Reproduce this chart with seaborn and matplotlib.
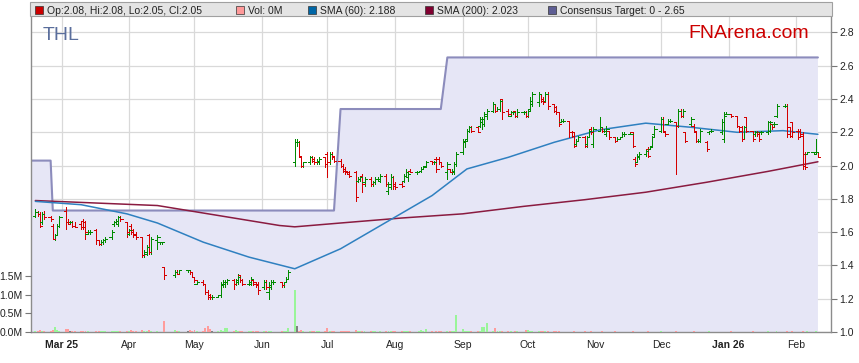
import numpy as np
import pandas as pd
import matplotlib
matplotlib.use("Agg")
import matplotlib.pyplot as plt
import matplotlib.dates as mdates
from matplotlib.patches import Rectangle
import seaborn as sns

# ASX trading days on the chart (holidays have no bar)
first_day = "2025-02-17"
last_day = "2026-02-11"
holidays = ["2025-04-18", "2025-04-21", "2025-04-25", "2025-06-09",
            "2025-12-25", "2025-12-26", "2026-01-01", "2026-01-26"]

# daily OHLC
opens = [
    1.70, 1.72, 1.71, 1.66, 1.71, 1.69, 1.64, 1.56, 1.58, 1.64,
    1.73, 1.66, 1.66, 1.66, 1.64, 1.65, 1.67, 1.66, 1.59, 1.60,
    1.61, 1.55, 1.53, 1.54, 1.55, 1.57, 1.65, 1.66, 1.65, 1.69,
    1.66, 1.59, 1.64, 1.61, 1.59, 1.57, 1.46, 1.47, 1.58, 1.48,
    1.55, 1.54, 1.54, 1.39, 1.34, 1.36, 1.35, 1.37, 1.37, 1.36,
    1.33, 1.29, 1.30, 1.29, 1.24, 1.22, 1.21, 1.21, 1.22, 1.28,
    1.29, 1.30, 1.31, 1.29, 1.30, 1.34, 1.31, 1.29, 1.29, 1.31,
    1.30, 1.29, 1.27, 1.30, 1.24, 1.27, 1.30, 1.30, 1.28, 1.30,
    1.32, 2.02, 2.14, 2.14, 2.05, 2.00, 2.02, 2.05, 2.04, 2.02,
    2.02, 2.05, 2.07, 2.02, 2.07, 2.06, 2.03, 2.00, 1.98, 1.97,
    1.96, 1.96, 1.91, 1.92, 1.94, 1.90, 1.92, 1.89, 1.90, 1.92,
    1.91, 1.94, 1.85, 1.87, 1.93, 1.89, 1.89, 1.91, 1.94, 1.93,
    1.97, 1.96, 1.96, 1.97, 1.98, 2.00, 2.03, 2.02, 2.04, 2.04,
    2.02, 1.96, 1.98, 1.96, 1.96, 2.01, 2.08, 2.14, 2.16, 2.21,
    2.23, 2.23, 2.24, 2.26, 2.25, 2.30, 2.33, 2.37, 2.33, 2.34,
    2.40, 2.33, 2.30, 2.32, 2.33, 2.30, 2.32, 2.32, 2.30, 2.34,
    2.37, 2.38, 2.43, 2.40, 2.39, 2.43, 2.37, 2.35, 2.32, 2.26,
    2.27, 2.27, 2.20, 2.20, 2.13, 2.15, 2.17, 2.13, 2.17, 2.22,
    2.13, 2.21, 2.23, 2.21, 2.19, 2.21, 2.17, 2.15, 2.16, 2.17,
    2.19, 2.19, 2.20, 2.04, 2.02, 2.05, 2.07, 2.10, 2.10, 2.12,
    2.19, 2.21, 2.28, 2.20, 2.25, 2.27, 2.26, 2.24, 2.33, 2.30,
    2.20, 2.25, 2.24, 2.20, 2.15, 2.15, 2.14, 2.20, 2.21, 2.20,
    2.16, 2.31, 2.31, 2.30, 2.24, 2.23, 2.16, 2.29, 2.21, 2.19,
    2.20, 2.20, 2.20, 2.20, 2.21, 2.25, 2.25, 2.30, 2.36, 2.36,
    2.23, 2.26, 2.21, 2.21, 2.19, 2.07, 2.07, 2.08, 2.07, 2.08,
]
highs = [
    1.74, 1.73, 1.72, 1.72, 1.73, 1.70, 1.65, 1.59, 1.65, 1.70,
    1.75, 1.68, 1.67, 1.67, 1.66, 1.66, 1.68, 1.67, 1.61, 1.61,
    1.62, 1.55, 1.55, 1.56, 1.57, 1.61, 1.67, 1.68, 1.70, 1.70,
    1.66, 1.62, 1.65, 1.62, 1.60, 1.57, 1.49, 1.52, 1.59, 1.57,
    1.58, 1.54, 1.54, 1.39, 1.37, 1.37, 1.37, 1.37, 1.37, 1.36,
    1.33, 1.31, 1.31, 1.29, 1.25, 1.23, 1.22, 1.22, 1.30, 1.31,
    1.31, 1.32, 1.32, 1.32, 1.35, 1.34, 1.32, 1.31, 1.33, 1.32,
    1.30, 1.30, 1.31, 1.31, 1.30, 1.31, 1.31, 1.30, 1.30, 1.33,
    1.37, 2.16, 2.16, 2.15, 2.05, 2.02, 2.06, 2.06, 2.05, 2.04,
    2.05, 2.05, 2.08, 2.08, 2.08, 2.06, 2.04, 2.01, 1.99, 1.97,
    1.97, 1.97, 1.93, 1.94, 1.95, 1.93, 1.93, 1.91, 1.93, 1.93,
    1.95, 1.95, 1.90, 1.95, 1.94, 1.90, 1.90, 1.95, 1.98, 1.96,
    1.98, 1.97, 1.97, 1.99, 1.99, 2.03, 2.03, 2.03, 2.05, 2.05,
    2.02, 2.02, 1.98, 1.98, 2.02, 2.08, 2.16, 2.16, 2.22, 2.24,
    2.24, 2.24, 2.29, 2.29, 2.32, 2.34, 2.38, 2.37, 2.35, 2.40,
    2.40, 2.34, 2.33, 2.33, 2.33, 2.34, 2.33, 2.33, 2.34, 2.41,
    2.44, 2.44, 2.43, 2.41, 2.44, 2.44, 2.37, 2.36, 2.32, 2.28,
    2.28, 2.27, 2.21, 2.20, 2.16, 2.18, 2.18, 2.18, 2.22, 2.23,
    2.23, 2.29, 2.23, 2.22, 2.24, 2.21, 2.17, 2.17, 2.17, 2.20,
    2.20, 2.20, 2.20, 2.05, 2.07, 2.08, 2.10, 2.11, 2.12, 2.18,
    2.24, 2.29, 2.29, 2.20, 2.28, 2.28, 2.26, 2.34, 2.34, 2.34,
    2.20, 2.29, 2.25, 2.20, 2.16, 2.22, 2.15, 2.21, 2.22, 2.28,
    2.32, 2.32, 2.31, 2.30, 2.24, 2.24, 2.24, 2.29, 2.21, 2.21,
    2.21, 2.20, 2.21, 2.27, 2.27, 2.25, 2.26, 2.37, 2.37, 2.37,
    2.23, 2.26, 2.22, 2.22, 2.20, 2.08, 2.08, 2.08, 2.16, 2.08,
]
lows = [
    1.69, 1.70, 1.63, 1.65, 1.68, 1.67, 1.56, 1.55, 1.58, 1.63,
    1.62, 1.65, 1.65, 1.63, 1.63, 1.62, 1.62, 1.56, 1.59, 1.59,
    1.53, 1.52, 1.52, 1.53, 1.54, 1.56, 1.64, 1.65, 1.64, 1.67,
    1.57, 1.58, 1.59, 1.57, 1.56, 1.45, 1.45, 1.46, 1.47, 1.47,
    1.50, 1.53, 1.53, 1.32, 1.33, 1.35, 1.35, 1.36, 1.35, 1.33,
    1.30, 1.29, 1.28, 1.23, 1.20, 1.20, 1.20, 1.21, 1.21, 1.27,
    1.27, 1.29, 1.26, 1.28, 1.29, 1.30, 1.28, 1.28, 1.28, 1.28,
    1.27, 1.23, 1.26, 1.26, 1.20, 1.26, 1.29, 1.27, 1.27, 1.30,
    1.32, 2.00, 2.12, 2.05, 1.99, 1.99, 2.01, 2.02, 2.01, 2.01,
    2.01, 1.99, 1.93, 2.01, 2.04, 2.02, 1.99, 1.96, 1.95, 1.95,
    1.93, 1.79, 1.90, 1.91, 1.84, 1.88, 1.88, 1.88, 1.89, 1.91,
    1.90, 1.88, 1.83, 1.86, 1.86, 1.86, 1.87, 1.90, 1.93, 1.91,
    1.96, 1.95, 1.96, 1.96, 1.98, 2.00, 2.01, 2.01, 1.96, 2.01,
    1.99, 1.92, 1.96, 1.95, 1.95, 2.00, 2.07, 2.11, 2.15, 2.20,
    2.20, 2.20, 2.23, 2.22, 2.24, 2.28, 2.32, 2.32, 2.33, 2.33,
    2.28, 2.30, 2.30, 2.31, 2.29, 2.29, 2.31, 2.29, 2.29, 2.33,
    2.36, 2.36, 2.38, 2.37, 2.38, 2.34, 2.32, 2.31, 2.24, 2.26,
    2.26, 2.17, 2.17, 2.11, 2.12, 2.15, 2.11, 2.11, 2.17, 2.19,
    2.11, 2.21, 2.20, 2.20, 2.18, 2.16, 2.14, 2.15, 2.16, 2.17,
    2.18, 2.19, 2.11, 2.00, 2.02, 2.04, 2.06, 2.05, 2.10, 2.12,
    2.18, 2.20, 2.20, 2.18, 2.25, 2.26, 1.95, 2.23, 2.29, 2.29,
    2.14, 2.24, 2.20, 2.14, 2.14, 2.14, 2.09, 2.19, 2.20, 2.19,
    2.14, 2.31, 2.29, 2.23, 2.20, 2.15, 2.16, 2.20, 2.15, 2.18,
    2.18, 2.15, 2.19, 2.19, 2.20, 2.22, 2.24, 2.29, 2.35, 2.17,
    2.17, 2.17, 2.16, 2.17, 1.98, 1.98, 2.07, 2.07, 2.07, 2.05,
]
closes = [
    1.72, 1.71, 1.64, 1.71, 1.69, 1.68, 1.56, 1.58, 1.64, 1.69,
    1.66, 1.65, 1.66, 1.64, 1.63, 1.63, 1.63, 1.60, 1.60, 1.60,
    1.55, 1.53, 1.54, 1.55, 1.56, 1.60, 1.66, 1.67, 1.69, 1.68,
    1.60, 1.61, 1.60, 1.58, 1.57, 1.46, 1.48, 1.51, 1.48, 1.56,
    1.57, 1.54, 1.54, 1.34, 1.36, 1.35, 1.37, 1.37, 1.36, 1.33,
    1.31, 1.30, 1.29, 1.24, 1.21, 1.21, 1.21, 1.22, 1.29, 1.30,
    1.30, 1.31, 1.29, 1.31, 1.33, 1.31, 1.29, 1.30, 1.32, 1.29,
    1.28, 1.25, 1.30, 1.27, 1.28, 1.30, 1.30, 1.28, 1.30, 1.32,
    1.36, 2.14, 2.14, 2.06, 2.00, 2.02, 2.05, 2.03, 2.02, 2.03,
    2.04, 2.01, 2.02, 2.07, 2.05, 2.03, 2.00, 1.97, 1.96, 1.95,
    1.94, 1.81, 1.92, 1.93, 1.89, 1.92, 1.89, 1.90, 1.92, 1.92,
    1.94, 1.89, 1.89, 1.93, 1.88, 1.87, 1.88, 1.94, 1.96, 1.95,
    1.96, 1.96, 1.97, 1.98, 1.99, 2.02, 2.02, 2.02, 1.98, 2.02,
    2.00, 2.01, 1.96, 1.97, 2.01, 2.07, 2.15, 2.15, 2.21, 2.23,
    2.21, 2.20, 2.28, 2.28, 2.31, 2.33, 2.37, 2.33, 2.34, 2.39,
    2.32, 2.31, 2.32, 2.32, 2.30, 2.32, 2.32, 2.30, 2.33, 2.39,
    2.43, 2.43, 2.39, 2.38, 2.43, 2.36, 2.33, 2.32, 2.25, 2.27,
    2.27, 2.20, 2.18, 2.12, 2.15, 2.17, 2.12, 2.17, 2.21, 2.20,
    2.22, 2.23, 2.21, 2.21, 2.22, 2.17, 2.15, 2.16, 2.17, 2.19,
    2.19, 2.19, 2.12, 2.01, 2.06, 2.07, 2.09, 2.06, 2.11, 2.17,
    2.22, 2.28, 2.21, 2.19, 2.27, 2.27, 2.24, 2.33, 2.30, 2.33,
    2.15, 2.28, 2.21, 2.15, 2.15, 2.21, 2.10, 2.21, 2.21, 2.26,
    2.30, 2.31, 2.30, 2.24, 2.21, 2.16, 2.23, 2.21, 2.16, 2.20,
    2.19, 2.16, 2.20, 2.26, 2.26, 2.23, 2.25, 2.36, 2.36, 2.19,
    2.18, 2.20, 2.17, 2.18, 2.00, 1.99, 2.08, 2.08, 2.08, 2.05,
]
# volume in millions of shares
volumes = [
    .04, .03, .05, .03, .02, .03, .06, .14, .05, .04,
    .08, .07, .02, .03, .02, .02, .03, .04, .02, .01,
    .03, .02, .02, .02, .03, .03, .04, .03, .02, .03,
    .04, .02, .05, .03, .03, .06, .03, .03, .05, .03,
    .02, .01, .01, .30, .05, .03, .02, .02, .06, .03,
    .05, .03, .04, .10, .16, .08, .03, .02, .05, .04,
    .10, .11, .04, .06, .03, .02, .03, .02, .02, .04,
    .02, .03, .02, .02, .03, .02, .01, .02, .03, .04,
    .10, 1.13, .16, .03, .05, .03, .02, .04, .02, .02,
    .02, .03, .11, .03, .02, .03, .02, .04, .02, .02,
    .03, .06, .02, .03, .04, .02, .03, .02, .02, .01,
    .02, .03, .02, .03, .04, .02, .02, .03, .02, .02,
    .02, .01, .02, .06, .02, .07, .02, .01, .04, .03,
    .03, .03, .03, .03, .04, .46, .08, .03, .03, .02,
    .03, .02, .03, .14, .14, .25, .04, .11, .02, .03,
    .04, .02, .03, .01, .02, .02, .01, .06, .06, .03,
    .02, .03, .02, .02, .02, .03, .02, .03, .02, .01,
    .01, .01, .01, .02, .01, .01, .02, .01, .01, .02,
    .01, .01, .02, .01, .01, .01, .02, .01, .01, .01,
    .01, .01, .02, .01, .01, .01, .01, .02, .01, .01,
    .01, .02, .01, .01, .01, .01, .02, .01, .01, .01,
    .01, .01, .02, .01, .01, .01, .01, .02, .01, .01,
    .01, .01, .02, .01, .01, .01, .01, .01, .02, .01,
    .01, .01, .01, .02, .01, .01, .01, .02, .01, .02,
    .01, .02, .01, .01, .02, .01, .02, .01, .02, 0.0,
]

# moving averages, read at a few dates
sma60_dates = ["2025-02-17", "2025-03-10", "2025-03-31", "2025-04-14", "2025-05-05",
               "2025-05-26", "2025-06-16", "2025-07-07", "2025-07-28", "2025-08-18",
               "2025-09-03", "2025-09-22", "2025-10-13", "2025-11-03", "2025-11-24",
               "2025-12-15", "2026-01-05", "2026-01-26", "2026-02-11"]
sma60_values = [1.785, 1.765, 1.71, 1.655, 1.54, 1.45, 1.38, 1.50, 1.66, 1.82,
                1.98, 2.05, 2.14, 2.215, 2.255, 2.23, 2.20, 2.21, 2.188]
sma200_dates = ["2025-02-17", "2025-03-17", "2025-04-14", "2025-05-12", "2025-06-09",
                "2025-06-16", "2025-07-07", "2025-08-04", "2025-09-01", "2025-09-29",
                "2025-10-27", "2025-11-24", "2025-12-22", "2026-01-19", "2026-02-11"]
sma200_values = [1.79, 1.775, 1.76, 1.70, 1.64, 1.632, 1.655, 1.685, 1.71, 1.755,
                 1.795, 1.84, 1.90, 1.965, 2.023]

# consensus target changes
target_dates = ["2025-02-17", "2025-02-25", "2025-07-07", "2025-08-25"]
target_values = [2.03, 1.73, 2.34, 2.65]

price_ticks = [1.0, 1.2, 1.4, 1.6, 1.8, 2.0, 2.2, 2.4, 2.6, 2.8]
vol_ticks = [0.0, 0.5, 1.0, 1.5]
vol_tick_labels = ["0.0M", "0.5M", "1.0M", "1.5M"]
month_labels = ["Mar 25", "Apr", "May", "Jun", "Jul", "Aug", "Sep", "Oct",
                "Nov", "Dec", "Jan 26", "Feb"]


def main():
    sns.set_style("white")
    plt.rcParams["font.family"] = ["Liberation Sans", "DejaVu Sans"]

    days = pd.bdate_range(first_day, last_day)
    days = days[~days.isin(pd.to_datetime(holidays))]
    x = mdates.date2num(days)
    o = np.array(opens)
    h = np.array(highs)
    l = np.array(lows)
    c = np.array(closes)
    v = np.array(volumes)

    target = pd.Series(target_values, index=pd.to_datetime(target_dates))
    target = target.reindex(days, method="ffill").values

    x_left = mdates.date2num(pd.Timestamp("2025-02-15"))
    x_right = mdates.date2num(pd.Timestamp("2026-02-17"))

    W, H = 859, 363
    fig = plt.figure(figsize=(W / 100, H / 100), dpi=100)
    ax = fig.add_axes([31 / W, 31 / H, 800 / W, 315 / H])
    ax.set_xlim(x_left, x_right)
    ax.set_ylim(1.0, 2.893)

    # grid sits under the consensus area
    month_starts = pd.date_range("2025-03-01", "2026-02-01", freq="MS")
    ax.set_xticks(mdates.date2num(month_starts))
    ax.set_yticks(price_ticks)
    ax.set_axisbelow(True)
    ax.grid(True, color="#d9d9d9", lw=0.9)

    tx = np.r_[x_left, x]
    ty = np.r_[target[0], target]
    ax.fill_between(tx, 0, ty, color="#e6e6f6", lw=0, zorder=1)
    sns.lineplot(x=tx, y=ty, ax=ax, color="#8c8cbc", lw=1.5, zorder=2,
                 estimator=None, sort=False)

    # moving averages
    sns.lineplot(x=mdates.date2num(pd.to_datetime(sma200_dates)), y=sma200_values,
                 ax=ax, color="#8a1b40", lw=1.1, zorder=3, estimator=None)
    sns.lineplot(x=mdates.date2num(pd.to_datetime(sma60_dates)), y=sma60_values,
                 ax=ax, color="#2f80c0", lw=1.1, zorder=3, estimator=None)

    # OHLC bars, thin crisp strokes
    col = np.where(c >= o, "#008a00", "#d40000")
    bar_kw = dict(colors=col, lw=0.7, zorder=4, antialiased=False)
    ax.vlines(x, l, h, **bar_kw)
    ax.hlines(o, x - 1.0, x, **bar_kw)
    ax.hlines(c, x, x + 1.0, **bar_kw)

    ax.set_xticklabels(month_labels)
    for lab in ax.get_xticklabels():
        if " " in lab.get_text():
            lab.set_fontweight("bold")
    ax.tick_params(axis="x", direction="out", length=3, width=0.8, color="#777777",
                   labelsize=7.5, labelcolor="#222222", pad=3)
    ax.set_xlabel("")
    ax.set_ylabel("")
    for side in ["left", "bottom", "right"]:
        ax.spines[side].set_color("#8c8c8c")
        ax.spines[side].set_linewidth(1.0)
    ax.spines["top"].set_visible(False)

    # volume on its own scale, ticks on the left
    vax = ax.twinx()
    vax.set_ylim(0, 8.445)
    vcol = np.where(c > o, "#99f599", np.where(c < o, "#ff9c9c", "#808080"))
    vax.bar(x, v, width=0.9, color=vcol, lw=0, zorder=2)
    vax.yaxis.tick_left()
    vax.set_yticks(vol_ticks)
    vax.set_yticklabels(vol_tick_labels)
    vax.tick_params(axis="y", direction="out", length=4, width=0.8, color="#777777",
                    labelsize=7.5, labelcolor="#222222", pad=2)
    for s in vax.spines.values():
        s.set_visible(False)

    # price scale on the right (twinx moved it to the left)
    ax.yaxis.tick_right()
    ax.set_yticks(price_ticks)
    ax.set_yticklabels([f"{t:.1f}" for t in price_ticks])
    ax.tick_params(axis="y", direction="out", length=4, width=0.8, color="#777777",
                   labelsize=7.5, labelcolor="#222222", pad=2)

    # legend strip along the top
    fig.patches.append(Rectangle((30 / W, 1 - 16 / H), 802 / W, 14 / H,
                                 transform=fig.transFigure, facecolor="#e4e4e4",
                                 edgecolor="#a0a0a0", lw=0.8))
    legend_items = [
        (35, "#cc0000", f"Op:{o[-1]:.2f}, Hi:{h[-1]:.2f}, Lo:{l[-1]:.2f}, Cl:{c[-1]:.2f}"),
        (236, "#ff9999", f"Vol: {v[-1]:.0f}M"),
        (308, "#0066a6", f"SMA (60): {sma60_values[-1]:.3f}"),
        (425, "#800030", f"SMA (200): {sma200_values[-1]:.3f}"),
        (548, "#5e5e94", f"Consensus Target: 0 - {target_values[-1]:.2f}"),
    ]
    for px, color, label in legend_items:
        fig.patches.append(Rectangle((px / W, 1 - 14 / H), 8 / W, 8 / H,
                                     transform=fig.transFigure, facecolor=color,
                                     edgecolor="#333333", lw=0.5))
        fig.text((px + 12) / W, 1 - 14 / H, label, fontsize=7.5, color="#222222",
                 va="baseline", ha="left")

    fig.text(43 / W, 1 - 40 / H, "THL", fontsize=14, color="#5a6e9c", va="baseline")
    fig.text(688 / W, 1 - 38.5 / H, "FNArena.com", fontsize=14, color="#cc0000",
             va="baseline")

    fig.savefig("out.png", dpi=100)


if __name__ == "__main__":
    main()
